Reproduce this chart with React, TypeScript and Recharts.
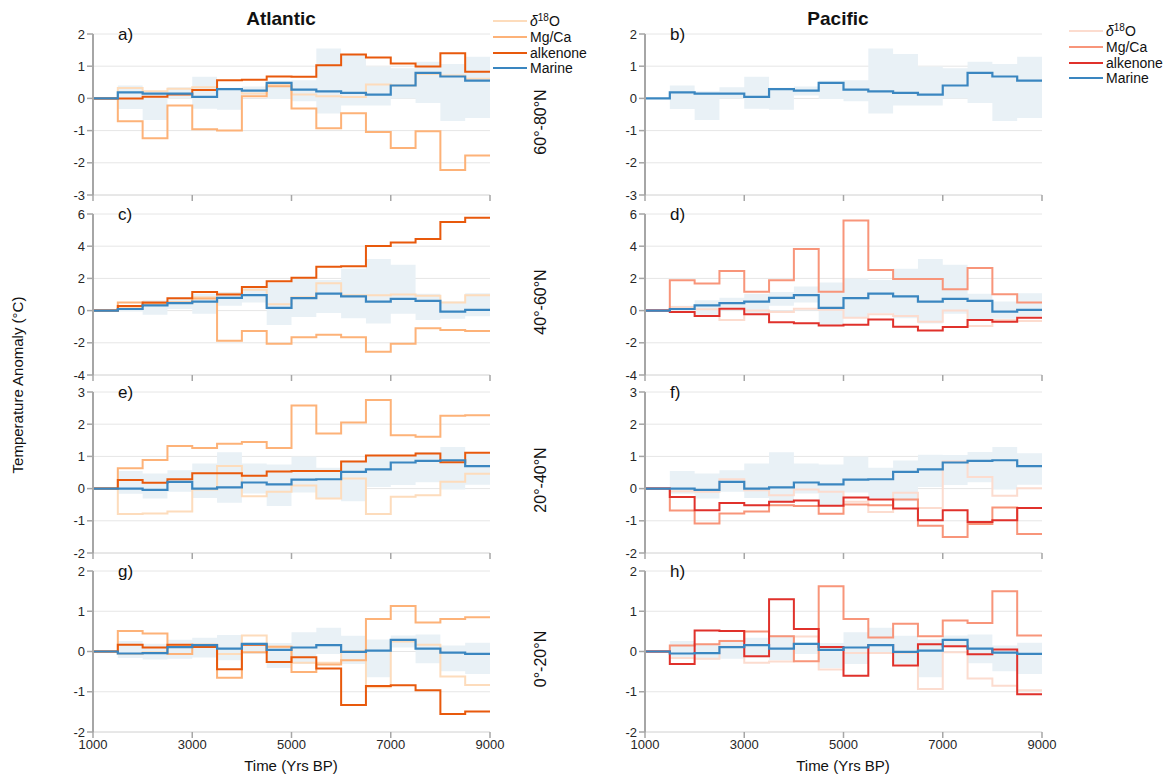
import React from 'react';
import { ComposedChart, Line, Area, XAxis, YAxis, CartesianGrid } from 'recharts';

// 500-year bins, 1000–9000 yr BP
const binStarts = [1000, 1500, 2000, 2500, 3000, 3500, 4000, 4500, 5000, 5500, 6000, 6500, 7000, 7500, 8000, 8500];
const END_YEAR = 9000;
const xTicks = [1000, 3000, 5000, 7000, 9000];

// ---- 60°–80°N ----
const marine6080 = [0, 0.19, 0.15, 0.15, 0.05, 0.29, 0.24, 0.48, 0.27, 0.22, 0.17, 0.12, 0.4, 0.79, 0.68, 0.55];
const bandLo6080 = [0, -0.33, -0.67, 0.0, -0.32, -0.35, 0.09, -0.02, -0.09, -0.47, -0.22, -0.22, 0.0, -0.14, -0.7, -0.61];
const bandHi6080 = [0, 0.4, 0.22, 0.35, 0.67, 0.33, 0.37, 0.55, 0.56, 1.55, 1.38, 0.99, 0.94, 1.14, 1.07, 1.29];
const atlD18o6080 = [0, 0.32, 0.22, 0.3, 0.35, 0.29, 0.15, 0.43, 0.12, 0.07, 0.04, 0.43, 0.4, 0.76, 0.71, 0.61];
const atlMgca6080 = [0, -0.71, -1.24, -0.22, -0.96, -1.0, 0.07, 0.38, -0.31, -0.93, -0.46, -1.04, -1.54, -1.02, -2.22, -1.77];
const atlAlk6080 = [0, 0.0, 0.05, 0.12, 0.26, 0.56, 0.58, 0.68, 0.67, 1.03, 1.36, 1.27, 1.08, 0.99, 1.4, 0.83];

// ---- 40°–60°N ----
const marine4060 = [0, 0.1, 0.33, 0.46, 0.56, 0.79, 0.96, 0.17, 0.77, 1.06, 0.88, 0.56, 0.73, 0.6, -0.06, 0.04];
const bandLo4060 = [0, -0.05, -0.25, 0.1, -0.2, 0.3, 0.5, -0.9, -0.4, -0.15, -0.48, -0.8, -0.2, -0.58, -0.5, -0.35];
const bandHi4060 = [0, 0.3, 0.65, 0.8, 1.05, 1.15, 1.5, 1.75, 2.0, 1.9, 2.6, 3.2, 2.85, 1.05, 0.56, 1.08];
const atlD18o4060 = [0, 0.2, 0.4, 0.5, 0.83, 1.05, 1.3, 0.4, 0.83, 1.7, 0.95, 0.95, 1.0, 0.92, 0.5, 0.95];
const atlMgca4060 = [0, 0.5, 0.45, 0.5, 0.75, -1.87, -1.27, -2.06, -1.65, -1.5, -1.65, -2.56, -2.06, -1.1, -1.2, -1.27];
const atlAlk4060 = [0, 0.29, 0.5, 0.77, 1.15, 1.0, 1.46, 1.83, 2.04, 2.73, 2.75, 4.02, 4.23, 4.44, 5.5, 5.77];
const pacD18o4060 = [0, 0.23, 0.08, -0.58, 0.0, -0.08, 0.12, 0.05, -0.44, -0.23, -0.33, -0.69, 0.0, -0.96, -0.58, -0.65];
const pacMgca4060 = [0, 1.88, 1.69, 2.46, 1.17, 1.88, 3.83, 1.17, 5.6, 2.52, 1.96, 1.96, 1.33, 2.65, 1.02, 0.5];
const pacAlk4060 = [0, -0.08, -0.33, 0.12, -0.23, -0.73, -0.79, -0.92, -0.88, -0.56, -1.0, -1.23, -1.02, -0.58, -0.69, -0.44];

// ---- 20°–40°N ----
const marine2040 = [0, 0.0, -0.04, 0.21, 0.0, 0.04, 0.19, 0.13, 0.28, 0.29, 0.52, 0.6, 0.81, 0.86, 0.88, 0.7];
const bandLo2040 = [0, -0.16, -0.31, -0.1, -0.29, -0.44, -0.15, -0.54, -0.12, -0.3, -0.39, 0.05, 0.11, 0.2, -0.03, 0.12];
const bandHi2040 = [0, 0.55, 0.47, 0.57, 0.78, 1.13, 0.78, 0.75, 1.0, 0.65, 0.87, 1.05, 1.04, 1.14, 1.29, 1.1];
const atlD18o2040 = [0, -0.79, -0.77, -0.71, -0.03, 0.7, -0.24, -0.1, 0.1, -0.31, 0.31, -0.79, -0.25, -0.21, 0.21, 0.46];
const atlMgca2040 = [0, 0.63, 0.89, 1.32, 1.26, 1.39, 1.45, 1.26, 2.58, 1.71, 2.05, 2.75, 1.66, 1.61, 2.26, 2.28];
const atlAlk2040 = [0, 0.27, 0.18, 0.29, 0.48, 0.48, 0.4, 0.53, 0.55, 0.55, 0.84, 1.03, 1.03, 1.09, 0.82, 1.11];
const pacD18o2040 = [0, -0.08, -0.1, 0.29, -0.05, -0.21, -0.03, -0.1, -0.41, -0.73, -0.13, -0.6, 0.84, 0.36, -0.22, 0.01];
const pacMgca2040 = [0, -0.68, -1.08, -0.77, -0.71, -0.52, -0.54, -0.78, -0.49, -0.52, -0.34, -1.15, -1.5, -1.1, -0.59, -1.41];
const pacAlk2040 = [0, -0.26, -0.67, -0.45, -0.52, -0.41, -0.37, -0.53, -0.28, -0.34, -0.62, -0.98, -0.67, -1.04, -0.98, -0.6];

// ---- 0°–20°N ----
const marine0020 = [0, -0.05, -0.04, 0.11, 0.16, 0.07, 0.19, 0.04, 0.1, 0.16, -0.01, 0.02, 0.29, 0.07, -0.03, -0.06];
const bandLo0020 = [0, -0.16, -0.2, -0.18, -0.15, -0.22, -0.06, -0.41, -0.31, -0.06, -0.31, -0.64, 0.1, -0.29, -0.49, -0.56];
const bandHi0020 = [0, 0.26, 0.19, 0.29, 0.34, 0.41, 0.22, 0.21, 0.48, 0.59, 0.39, 0.3, 0.4, 0.42, 0.15, 0.22];
const atlD18o0020 = [0, -0.06, -0.02, 0.15, 0.15, -0.06, 0.4, 0.12, -0.28, -0.28, 0.01, -0.89, 0.25, 0.17, -0.62, -0.83];
const atlMgca0020 = [0, 0.51, 0.45, -0.06, 0.17, -0.65, -0.02, 0.12, -0.51, -0.32, -0.22, 0.81, 1.13, 0.72, 0.81, 0.85];
const atlAlk0020 = [0, 0.17, 0.1, 0.17, 0.11, -0.44, 0.17, -0.26, -0.14, -0.42, -1.33, -0.86, -0.84, -0.96, -1.55, -1.49];
const pacD18o0020 = [0, -0.16, -0.18, 0.12, -0.28, -0.25, 0.37, -0.45, -0.04, -0.04, -0.04, -0.93, -0.02, -0.67, -0.85, -0.96];
const pacMgca0020 = [0, 0.15, 0.18, 0.26, 0.5, 0.38, -0.24, 1.62, 0.81, 0.35, 0.69, 0.38, 0.77, 0.71, 1.5, 0.4];
const pacAlk0020 = [0, -0.31, 0.52, 0.51, -0.12, 1.3, 0.56, 0.11, -0.6, 0.16, -0.35, 0.18, 0.13, -0.07, 0.05, -1.06];

const FONT = '"Liberation Sans", Arial, Helvetica, sans-serif';
const TEXT = '#262626';
const MARINE = '#3a86c0';
const BAND = '#e9f1f6';
const ATL = { d18o: '#fddcbc', mgca: '#fdb278', alk: '#e8590c' };
const PAC = { d18o: '#fcdccf', mgca: '#f8957a', alk: '#e0312b' };

type Proxy = { d18o: number[]; mgca: number[]; alk: number[] };
type Palette = { d18o: string; mgca: string; alk: string };

const PLOT_W = 397;
const PLOT_H = 161;
const YW = 40;
const MT = 10;
const MR = 24;
const XH = 30;

function buildData(marine: number[], lo: number[], hi: number[], proxy?: Proxy) {
  const xs = [...binStarts, END_YEAR];
  return xs.map((x, i) => {
    const k = Math.min(i, binStarts.length - 1);
    const row: Record<string, unknown> = { x, marine: marine[k], band: [lo[k], hi[k]] };
    if (proxy) {
      row.d18o = proxy.d18o[k];
      row.mgca = proxy.mgca[k];
      row.alk = proxy.alk[k];
    }
    return row;
  });
}

type PanelProps = {
  left: number;
  top: number;
  domain: [number, number];
  yTicks: number[];
  marine: number[];
  lo: number[];
  hi: number[];
  proxy?: Proxy;
  palette: Palette;
  showXLabels: boolean;
  tag: string;
};

function Panel({ left, top, domain, yTicks, marine, lo, hi, proxy, palette, showXLabels, tag }: PanelProps) {
  const data = buildData(marine, lo, hi, proxy);
  const tickStyle = { fill: TEXT, fontSize: 13, fontFamily: FONT };
  return (
    <div style={{ position: 'absolute', left: left - YW, top: top - MT }}>
      <ComposedChart
        width={YW + PLOT_W + MR}
        height={MT + PLOT_H + XH}
        data={data}
        margin={{ top: MT, right: MR, bottom: 0, left: 0 }}
      >
        <CartesianGrid vertical={false} stroke="#e6e6e6" strokeWidth={1} />
        <XAxis
          type="number"
          dataKey="x"
          domain={[1000, END_YEAR]}
          ticks={xTicks}
          height={XH}
          axisLine={{ stroke: '#dcdcdc' }}
          tickLine={{ stroke: '#a6a6a6', strokeWidth: 1.5 }}
          tickSize={6}
          tick={tickStyle}
          tickFormatter={(v: number) => (showXLabels ? String(v) : '')}
          allowDataOverflow
        />
        <YAxis
          type="number"
          domain={domain}
          ticks={yTicks}
          width={YW}
          axisLine={{ stroke: '#a6a6a6', strokeWidth: 2 }}
          tickLine={{ stroke: '#a6a6a6', strokeWidth: 1.5 }}
          tickSize={6}
          tick={tickStyle}
          interval={0}
          allowDataOverflow
        />
        <Area
          type="stepAfter"
          dataKey="band"
          stroke="none"
          fill={BAND}
          fillOpacity={1}
          isAnimationActive={false}
        />
        {proxy && (
          <Line type="stepAfter" dataKey="d18o" stroke={palette.d18o} strokeWidth={2} dot={false} isAnimationActive={false} />
        )}
        {proxy && (
          <Line type="stepAfter" dataKey="mgca" stroke={palette.mgca} strokeWidth={2} dot={false} isAnimationActive={false} />
        )}
        {proxy && (
          <Line type="stepAfter" dataKey="alk" stroke={palette.alk} strokeWidth={2} dot={false} isAnimationActive={false} />
        )}
        <Line type="stepAfter" dataKey="marine" stroke={MARINE} strokeWidth={2.2} dot={false} isAnimationActive={false} />
      </ComposedChart>
      <div
        style={{
          position: 'absolute',
          left: YW + 25,
          top: MT - 9,
          fontSize: 17,
          fontFamily: FONT,
          color: '#111',
          lineHeight: '20px',
        }}
      >
        {tag}
      </div>
    </div>
  );
}

function Legend({ left, top, palette }: { left: number; top: number; palette: Palette }) {
  const items: { label: React.ReactNode; color: string }[] = [
    {
      label: (
        <span>
          <i>δ</i>
          <span style={{ fontSize: 10, position: 'relative', top: -5 }}>18</span>O
        </span>
      ),
      color: palette.d18o,
    },
    { label: 'Mg/Ca', color: palette.mgca },
    { label: 'alkenone', color: palette.alk },
    { label: 'Marine', color: MARINE },
  ];
  const STEP = 15.8;
  return (
    <div style={{ position: 'absolute', left, top, fontFamily: FONT, fontSize: 14, color: '#111' }}>
      {items.map((it, i) => (
        <div key={i} style={{ position: 'absolute', left: 0, top: i * STEP - 7, height: 14, whiteSpace: 'nowrap' }}>
          <svg width={34} height={14} style={{ position: 'absolute', left: 0, top: 0 }}>
            <line x1={0} y1={7} x2={34} y2={7} stroke={it.color} strokeWidth={2} />
          </svg>
          <span style={{ position: 'absolute', left: 37, top: 0, lineHeight: '14px' }}>{it.label}</span>
        </div>
      ))}
    </div>
  );
}

const rowTops = [34, 214, 392, 571];
const ATL_LEFT = 93;
const PAC_LEFT = 645;

const rowSpecs = [
  { domain: [-3, 2] as [number, number], yTicks: [-3, -2, -1, 0, 1, 2], marine: marine6080, lo: bandLo6080, hi: bandHi6080,
    atl: { d18o: atlD18o6080, mgca: atlMgca6080, alk: atlAlk6080 }, pac: undefined, label: '60°-80°N' },
  { domain: [-4, 6] as [number, number], yTicks: [-4, -2, 0, 2, 4, 6], marine: marine4060, lo: bandLo4060, hi: bandHi4060,
    atl: { d18o: atlD18o4060, mgca: atlMgca4060, alk: atlAlk4060 }, pac: { d18o: pacD18o4060, mgca: pacMgca4060, alk: pacAlk4060 }, label: '40°-60°N' },
  { domain: [-2, 3] as [number, number], yTicks: [-2, -1, 0, 1, 2, 3], marine: marine2040, lo: bandLo2040, hi: bandHi2040,
    atl: { d18o: atlD18o2040, mgca: atlMgca2040, alk: atlAlk2040 }, pac: { d18o: pacD18o2040, mgca: pacMgca2040, alk: pacAlk2040 }, label: '20°-40°N' },
  { domain: [-2, 2] as [number, number], yTicks: [-2, -1, 0, 1, 2], marine: marine0020, lo: bandLo0020, hi: bandHi0020,
    atl: { d18o: atlD18o0020, mgca: atlMgca0020, alk: atlAlk0020 }, pac: { d18o: pacD18o0020, mgca: pacMgca0020, alk: pacAlk0020 }, label: '0°-20°N' },
];
const tagsAtl = ['a)', 'c)', 'e)', 'g)'];
const tagsPac = ['b)', 'd)', 'f)', 'h)'];

export default function App() {
  return (
    <div style={{ position: 'absolute', left: 0, top: 0, width: 1168, height: 780, background: '#fff', fontFamily: FONT, overflow: 'hidden' }}>
      <div style={{ position: 'absolute', left: 181, width: 200, top: 8, textAlign: 'center', fontWeight: 'bold', fontSize: 19, color: '#111' }}>Atlantic</div>
      <div style={{ position: 'absolute', left: 738, width: 200, top: 8, textAlign: 'center', fontWeight: 'bold', fontSize: 19, color: '#111' }}>Pacific</div>

      {rowSpecs.map((r, i) => (
        <React.Fragment key={i}>
          <Panel left={ATL_LEFT} top={rowTops[i]} domain={r.domain} yTicks={r.yTicks} marine={r.marine} lo={r.lo} hi={r.hi}
            proxy={r.atl} palette={ATL} showXLabels={i === 3} tag={tagsAtl[i]} />
          <Panel left={PAC_LEFT} top={rowTops[i]} domain={r.domain} yTicks={r.yTicks} marine={r.marine} lo={r.lo} hi={r.hi}
            proxy={r.pac} palette={PAC} showXLabels={i === 3} tag={tagsPac[i]} />
          <div style={{ position: 'absolute', left: 541 - 60, top: rowTops[i] + 88 - 10, width: 120, height: 20, textAlign: 'center',
            transform: 'rotate(-90deg)', fontSize: 16, color: '#111', lineHeight: '20px' }}>{r.label}</div>
        </React.Fragment>
      ))}

      <div style={{ position: 'absolute', left: 18 - 120, top: 385 - 10, width: 240, height: 20, textAlign: 'center',
        transform: 'rotate(-90deg)', fontSize: 15, color: '#111', lineHeight: '20px' }}>Temperature Anomaly (°C)</div>

      <div style={{ position: 'absolute', left: 291 - 80, width: 160, top: 757, textAlign: 'center', fontSize: 15, color: '#111' }}>Time (Yrs BP)</div>
      <div style={{ position: 'absolute', left: 843 - 80, width: 160, top: 757, textAlign: 'center', fontSize: 15, color: '#111' }}>Time (Yrs BP)</div>

      <Legend left={493} top={21} palette={ATL} />
      <Legend left={1069} top={31} palette={PAC} />
    </div>
  );
}
